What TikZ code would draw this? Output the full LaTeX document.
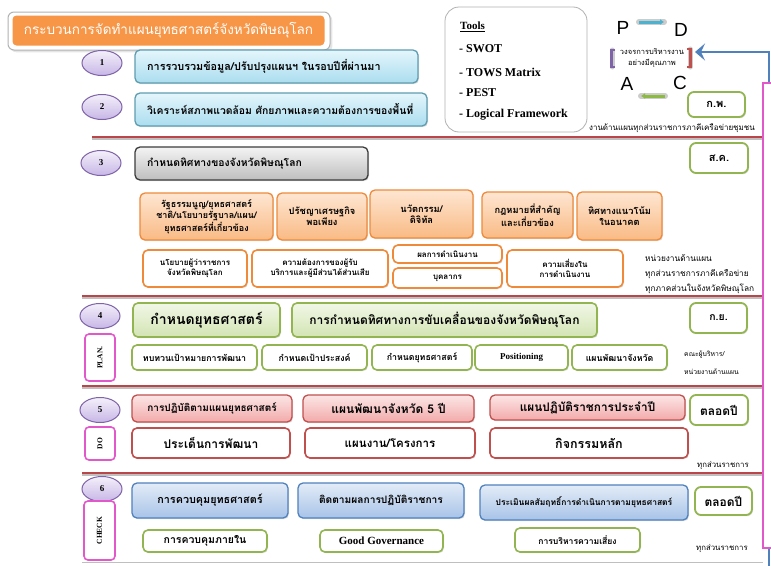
\documentclass[tikz,border=0pt]{standalone}
\usepackage{fontspec}
\setmainfont{Liberation Serif}
\newfontfamily\thai[Script=Thai]{Loma}
\newfontfamily\lsans{Liberation Sans}
\usetikzlibrary{shapes.geometric,arrows.meta,shadows}

\definecolor{orT}{HTML}{F79646}
\definecolor{lavT}{HTML}{F4F0FA}
\definecolor{lavB}{HTML}{C7B6E6}
\definecolor{purp}{HTML}{7E63A8}
\definecolor{cyT}{HTML}{E4F6FC}
\definecolor{cyB}{HTML}{ABDDEF}
\definecolor{cyD}{HTML}{5E9DB0}
\definecolor{gyT}{HTML}{F4F4F4}
\definecolor{gyB}{HTML}{BEBEBE}
\definecolor{gyD}{HTML}{3C3C3C}
\definecolor{oT}{HTML}{FEE6D2}
\definecolor{oB}{HTML}{F9BA84}
\definecolor{oD}{HTML}{EE8A3A}
\definecolor{gnT}{HTML}{F1F7E6}
\definecolor{gnB}{HTML}{D3E4B3}
\definecolor{gnD}{HTML}{92B552}
\definecolor{rdT}{HTML}{FCE6E6}
\definecolor{rdB}{HTML}{F2AAAA}
\definecolor{rdD}{HTML}{C0504D}
\definecolor{blT}{HTML}{E3ECF7}
\definecolor{blB}{HTML}{A8C3E8}
\definecolor{blD}{HTML}{4F81BD}
\definecolor{pinkD}{HTML}{E257C9}
\definecolor{sepR}{HTML}{B9474A}
\definecolor{cyArr}{HTML}{4BB3CF}
\definecolor{gnArr}{HTML}{8DBA43}

% box from corner (x1,y1) to corner (x2,y2)
\newcommand\bx[7]{%
  \pgfmathsetmacro\bxw{#5-#3}\pgfmathsetmacro\bxh{#6-#4}%
  \pgfmathsetmacro\bxx{(#3+#5)/2}\pgfmathsetmacro\bxy{(#4+#6)/2}%
  \node[#1, minimum width=\bxw pt, minimum height=\bxh pt] (#2) at (\bxx,\bxy) {#7};}
\newcommand\fz[1]{\pgfmathsetmacro\fzb{#1*1.22}\fontsize{#1}{\fzb}\selectfont}

\begin{document}
\begin{tikzpicture}[x=1pt,y=-1pt,
  fs/.style={font=\thai\bfseries\fz{#1}},
  fsn/.style={font=\thai\fz{#1}},
  fsr/.style={font=\rmfamily\bfseries\fz{#1}},
  base/.style={rounded corners=5pt, line width=1.3pt, align=center, inner sep=1pt,
    drop shadow={opacity=0.25, shadow xshift=1pt, shadow yshift=-1.2pt}},
  num/.style={ellipse, draw=purp, line width=1pt, top color=lavT, bottom color=lavB,
    minimum width=40pt, minimum height=25pt, inner sep=0pt, fsr=9},
  cyanbox/.style={base, draw=cyD, top color=cyT, bottom color=cyB},
  greybox/.style={base, draw=gyD, top color=gyT, bottom color=gyB},
  orbox/.style={base, draw=oD, top color=oT, bottom color=oB},
  orwhite/.style={base, draw=oD, fill=white, line width=1.6pt},
  gnbox/.style={base, draw=gnD, top color=gnT, bottom color=gnB, line width=1.6pt},
  gnwhite/.style={base, draw=gnD, fill=white, line width=1.6pt},
  rdbox/.style={base, draw=rdD, top color=rdT, bottom color=rdB},
  rdwhite/.style={base, draw=rdD, fill=white, line width=1.6pt},
  blbox/.style={base, draw=blD, top color=blT, bottom color=blB},
  month/.style={base, draw=gnD, fill=white, line width=1.8pt, rounded corners=6pt},
  phase/.style={rounded corners=4pt, draw=pinkD, fill=white, line width=1.6pt,
    inner sep=0pt, fsr=7.5},
  lefttext/.style={anchor=west, inner sep=0pt},
  note/.style={inner sep=0pt, anchor=west},
  sep/.style={sepR, line width=2.4pt},
  sepshadow/.style={black!25, line width=1.6pt},
]
\useasboundingbox (0,0) rectangle (771,565);
\fill[white] (0,0) rectangle (771,565);

% ---- separators between the stages
\foreach \yy/\xs in {137/92, 296/82, 386/82, 473/82}{
  \draw[sepshadow] (\xs,\yy+2.2) -- (763,\yy+2.2);
  \draw[sep] (\xs,\yy) -- (763,\yy);
}
\draw[black!25, line width=1pt] (82,562) -- (763,562);

% ---- feedback arrow and the pink frame at the right
\coordinate (bstart) at (769,566);
\coordinate (dhook) at (695,52);
\draw[blD, line width=2.8pt, -{Stealth[length=10pt, width=17pt, inset=4pt]}] (bstart) |- (dhook);
\draw[pinkD, line width=1.5pt, fill=white] (763,83) rectangle (790,548);

% ---- title
\node[rounded corners=6pt, draw=black!30, fill=white, line width=1pt,
  minimum width=322pt, minimum height=38pt, drop shadow={opacity=0.2}] (titleframe) at (169,31) {};
\node[rounded corners=4pt, fill=orT, minimum width=312pt, minimum height=30pt,
  font=\thai\fz{13.5}, text=white] (title) at (168.5,30.5) {กระบวนการจัดทำแผนยุทธศาสตร์จังหวัดพิษณุโลก};

% ---- note partly tucked under the tools panel
\node[note, fsn=8, anchor=east] (r1) at (755,128) {งานด้านแผนทุกส่วนราชการภาคีเครือข่ายชุมชน};

% ---- tools
\node[rounded corners=14pt, draw=black!30, fill=white, line width=0.8pt,
  minimum width=142pt, minimum height=125pt] (tools) at (516,69.5) {};
\node[lefttext, fsr=11] (t0) at (460,27) {\underline{Tools}};
\node[lefttext, fsr=12] (t1) at (459,49) {- SWOT};
\node[lefttext, fsr=12] (t2) at (459,72) {- TOWS Matrix};
\node[lefttext, fsr=12] (t3) at (459,93) {- PEST};
\node[lefttext, fsr=12] (t4) at (459,115) {- Logical Framework};

% ---- PDCA cycle
\node[font=\lsans\fz{19}, inner sep=0pt] (P) at (623,28) {P};
\node[font=\lsans\fz{19}, inner sep=0pt] (D) at (681,30) {D};
\node[font=\lsans\fz{19}, inner sep=0pt] (A) at (627,84) {A};
\node[font=\lsans\fz{19}, inner sep=0pt] (C) at (680,83) {C};
\node[font=\thai\fz{7.5}, align=center, inner sep=0pt] (cyc) at (652,58) {วงจรการบริหารงาน\\[1pt]อย่างมีคุณภาพ};
\coordinate (pd1) at (639,22); \coordinate (pd2) at (664,22);
\coordinate (ca1) at (665,96); \coordinate (ca2) at (641,96);
\draw[black!20, line width=6pt, line cap=round] (pd1) -- (pd2);
\draw[cyArr, line width=3pt, -{Latex[length=4pt,width=6pt]}] (pd1) -- (pd2);
\draw[black!20, line width=6pt, line cap=round] (ca1) -- (ca2);
\draw[gnArr, line width=3pt, -{Latex[length=4pt,width=6pt]}] (ca1) -- (ca2);
\draw[black!20, line width=5pt, line cap=round] (690,49) -- (690,67);
\draw[rdD, line width=2.6pt] (687,49) -- (690.5,49) -- (690.5,67) -- (687,67);
\draw[black!20, line width=5pt, line cap=round] (612,50) -- (612,67);
\draw[purp, line width=2.6pt] (615,50) -- (611.5,50) -- (611.5,67) -- (615,67);

% ---- stage 1 and 2
\node[num] (n1) at (102,63) {1};
\bx{cyanbox}{s1}{135}{50}{418}{83}{}
\node[lefttext, fs=10.8] (s1t) at (147,66.5) {การรวบรวมข้อมูล/ปรับปรุงแผนฯ ในรอบปีที่ผ่านมา};
\node[num] (n2) at (102,107) {2};
\bx{cyanbox}{s2}{135}{93}{427}{126}{}
\node[lefttext, fs=10.4] (s2t) at (147,109.5) {วิเคราะห์สภาพแวดล้อม ศักยภาพและความต้องการของพื้นที่};
\bx{month, fs=11}{m1}{688}{92}{745}{117}{ก.พ.}

% ---- stage 3
\node[num] (n3) at (101,163) {3};
\bx{greybox}{s3}{135}{147}{368}{180}{}
\node[lefttext, fs=10.4] (s3t) at (147,163.5) {กำหนดทิศทางของจังหวัดพิษณุโลก};
\bx{month, fs=11}{m2}{690}{143}{748}{173}{ส.ค.}
\bx{orbox, fs=9}{o1}{140}{193}{273}{240}{รัฐธรรมนูญ/ยุทธศาสตร์\\ชาติ/นโยบายรัฐบาล/แผน/\\ยุทธศาสตร์ที่เกี่ยวข้อง}
\bx{orbox, fs=9.3}{o2}{277}{193}{367}{240}{ปรัชญาเศรษฐกิจ\\พอเพียง}
\bx{orbox, fs=9.3}{o3}{370}{190}{473}{238}{นวัตกรรม/\\ดิจิทัล}
\bx{orbox, fs=9.3}{o4}{482}{192}{573}{238}{กฎหมายที่สำคัญ\\และเกี่ยวข้อง}
\bx{orbox, fs=9.3}{o5}{577}{192}{662}{240}{ทิศทางแนวโน้ม\\ในอนาคต}
\bx{orwhite, fs=8}{w1}{143}{250}{247}{287}{นโยบายผู้ว่าราชการ\\จังหวัดพิษณุโลก}
\bx{orwhite, fs=8}{w2}{252}{250}{388}{287}{ความต้องการของผู้รับ\\บริการและผู้มีส่วนได้ส่วนเสีย}
\bx{orwhite, fs=8}{w3}{393}{245}{502}{263}{ผลการดำเนินงาน}
\bx{orwhite, fs=8}{w4}{393}{268}{502}{288}{บุคลากร}
\bx{orwhite, fs=8}{w5}{507}{250}{623}{287}{ความเสี่ยงใน\\การดำเนินงาน}
\node[note, fsn=8.3] (r3a) at (645,258) {หน่วยงานด้านแผน};
\node[note, fsn=8.3] (r3b) at (645,274) {ทุกส่วนราชการภาคีเครือข่าย};
\node[note, fsn=8.3] (r3c) at (645,289) {ทุกภาคส่วนในจังหวัดพิษณุโลก};

% ---- stage 4 (PLAN)
\node[num] (n4) at (100,316) {4};
\bx{phase}{plan}{85}{334}{115}{381}{\rotatebox{90}{PLAN.}}
\bx{gnbox, fs=14}{g1}{133}{303}{280}{337}{กำหนดยุทธศาสตร์}
\bx{gnbox, fs=12}{g2}{292}{303}{597}{337}{การกำหนดทิศทางการขับเคลื่อนของจังหวัดพิษณุโลก}
\bx{month, fs=10.5}{m3}{690}{303}{747}{333}{ก.ย.}
\bx{gnwhite, fs=8.8}{p1}{132}{345}{257}{370}{ทบทวนเป้าหมายการพัฒนา}
\bx{gnwhite, fs=8.8}{p2}{262}{345}{367}{370}{กำหนดเป้าประสงค์}
\bx{gnwhite, fs=8.8}{p3}{372}{345}{472}{370}{กำหนดยุทธศาสตร์}
\bx{gnwhite, fsr=9}{p4}{475}{345}{568}{370}{Positioning}
\bx{gnwhite, fs=8.8}{p5}{572}{345}{667}{370}{แผนพัฒนาจังหวัด}
\node[note, fsn=6.8] (r4a) at (684,355) {คณะผู้บริหาร/};
\node[note, fsn=6.8] (r4b) at (684,372) {หน่วยงานด้านแผน};

% ---- stage 5 (DO)
\node[num] (n5) at (100,410) {5};
\bx{phase}{do}{85}{427}{115}{460}{\rotatebox{90}{DO}}
\bx{rdbox, fs=10}{d1}{132}{395}{292}{422}{การปฏิบัติตามแผนยุทธศาสตร์}
\bx{rdbox, fs=12}{d2}{303}{395}{474}{422}{แผนพัฒนาจังหวัด 5 ปี}
\bx{rdbox, fs=11.8}{d3}{490}{395}{685}{420}{แผนปฏิบัติราชการประจำปี}
\bx{month, fs=12}{m4}{690}{395}{748}{425}{ตลอดปี}
\bx{rdwhite, fs=12}{e1}{132}{428}{290}{458}{ประเด็นการพัฒนา}
\bx{rdwhite, fs=11.5}{e2}{305}{428}{475}{458}{แผนงาน/โครงการ}
\bx{rdwhite, fs=12.5}{e3}{490}{428}{688}{458}{กิจกรรมหลัก}
\node[note, fsn=7.8] (r5) at (697,465) {ทุกส่วนราชการ};

% ---- stage 6 (CHECK)
\node[num] (n6) at (102,489) {6};
\bx{phase}{check}{84}{501}{115}{560}{\rotatebox{90}{CHECK}}
\bx{blbox, fs=10.8}{c1}{132}{483}{288}{518}{การควบคุมยุทธศาสตร์}
\bx{blbox, fs=10.2}{c2}{298}{483}{464}{518}{ติดตามผลการปฏิบัติราชการ}
\bx{blbox, fs=8.5}{c3}{480}{485}{688}{520}{ประเมินผลสัมฤทธิ์การดำเนินการตามยุทธศาสตร์}
\bx{month, fs=12}{m5}{695}{487}{752}{515}{ตลอดปี}
\bx{gnwhite, fs=10.5}{k1}{143}{530}{267}{552}{การควบคุมภายใน}
\bx{gnwhite, fsr=11}{k2}{320}{530}{443}{552}{Good Governance}
\bx{gnwhite, fs=8.6}{k3}{515}{528}{640}{552}{การบริหารความเสี่ยง}
\node[note, fsn=7.8] (r6) at (696,548) {ทุกส่วนราชการ};
\end{tikzpicture}
\end{document}
